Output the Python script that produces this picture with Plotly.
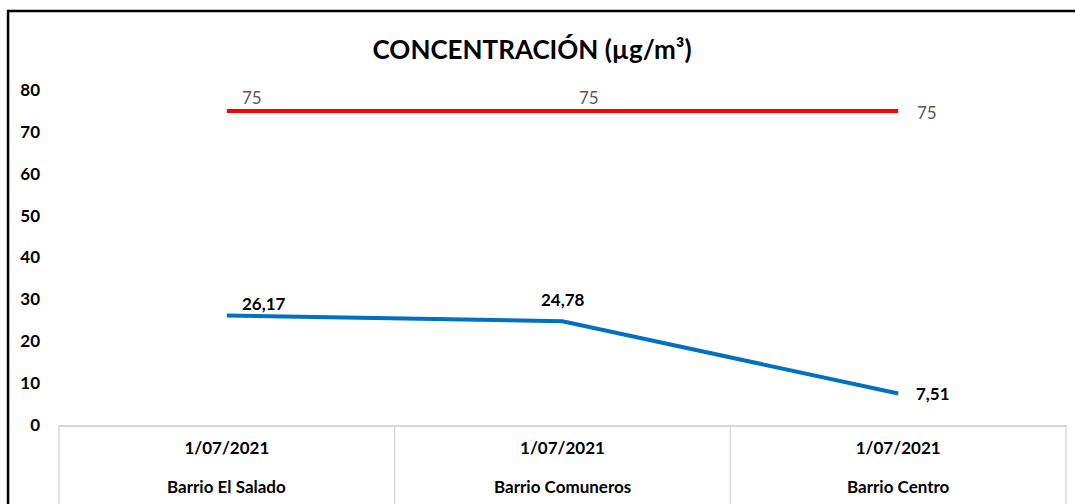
import plotly.graph_objects as go

# ---- data ----
fechas = ["1/07/2021", "1/07/2021", "1/07/2021"]
barrios = ["Barrio El Salado", "Barrio Comuneros", "Barrio Centro"]
concentracion = [26.17, 24.78, 7.51]
norma = [75, 75, 75]
y_ticks = [0, 10, 20, 30, 40, 50, 60, 70, 80]

FONT = "Lato"
cats = list(range(len(barrios)))

fig = go.Figure()
fig.add_trace(go.Scatter(x=cats, y=norma, mode="lines",
                         line=dict(color="#FF0000", width=4), hoverinfo="skip"))
fig.add_trace(go.Scatter(x=cats, y=concentracion, mode="lines",
                         line=dict(color="#0070C0", width=4), hoverinfo="skip"))

annotations = []
# label offsets (style)
norma_shift = [(25, 13), (26, 13), (29, -2)]
conc_shift = [(37, 12), (0, 22), (35, 0)]
for i, (c, v) in enumerate(zip(cats, norma)):
    annotations.append(dict(x=c, y=v, xref="x", yref="y", text=f"{v}", showarrow=False,
                            xshift=norma_shift[i][0], yshift=norma_shift[i][1],
                            font=dict(family=FONT, size=17, color="#595959")))
for i, (c, v) in enumerate(zip(cats, concentracion)):
    annotations.append(dict(x=c, y=v, xref="x", yref="y",
                            text=f"{v:.2f}".replace(".", ","), showarrow=False,
                            xshift=conc_shift[i][0], yshift=conc_shift[i][1],
                            font=dict(family=FONT, size=17, color="#000000", weight="bold")))
for c, b in zip(cats, barrios):
    annotations.append(dict(x=c, y=-0.185, xref="x", yref="paper", text=f"<b>{b}</b>",
                            showarrow=False, yanchor="middle",
                            font=dict(family=FONT, size=17, color="#000000")))

shapes = []
n = len(barrios)
for k in range(n + 1):
    shapes.append(dict(type="line", xref="x domain", yref="paper", x0=k / n, x1=k / n,
                       y0=0, y1=-0.3, line=dict(color="#D9D9D9", width=1.5), layer="below"))
# outer chart border
shapes.append(dict(type="rect", xref="paper", yref="paper", x0=-0.0506, x1=1.2,
                   y0=-0.4, y1=1.2358, line=dict(color="#000000", width=2.5)))

fig.update_layout(
    width=1075, height=504,
    margin=dict(l=59, r=9, t=90, b=79),
    paper_bgcolor="white", plot_bgcolor="white",
    showlegend=False,
    title=dict(text="<b>CONCENTRACIÓN (µg/m³)</b>", x=0.495, xref="container", xanchor="center",
               y=1 - 50 / 504, yref="container", yanchor="middle",
               font=dict(family=FONT, size=26, color="#000000")),
    xaxis=dict(range=[-0.5, n - 0.5], tickmode="array", tickvals=cats,
               ticktext=[f"<b>{f}</b>" for f in fechas],
               showgrid=False, zeroline=False, showline=True, linecolor="#D9D9D9", linewidth=1.5,
               ticks="", ticklabelstandoff=7,
               tickfont=dict(family=FONT, size=17, color="#000000")),
    yaxis=dict(range=[0, 80], tickmode="array", tickvals=y_ticks,
               ticktext=[f"<b>{t}</b>" for t in y_ticks],
               showgrid=False, zeroline=False, showline=False, ticks="",
               ticklabelstandoff=18,
               tickfont=dict(family=FONT, size=17, color="#000000")),
    annotations=annotations, shapes=shapes,
)

fig.write_html("out.html", config={"displayModeBar": False},
               post_script="document.body.style.margin='0';document.body.style.overflow='hidden';")
